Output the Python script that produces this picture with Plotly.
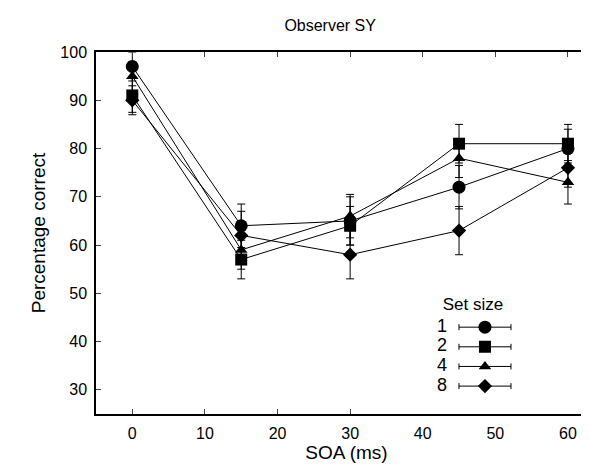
import plotly.graph_objects as go

soa = [0, 15, 30, 45, 60]
set_sizes = ["1", "2", "4", "8"]
pct_1 = [97, 64, 65, 72, 80]
pct_2 = [91, 57, 64, 81, 81]
pct_4 = [95, 59, 66, 78, 73]
pct_8 = [90, 62, 58, 63, 76]
err_1 = [3, 4.5, 5, 4.5, 4]
err_2 = [3.5, 4, 4, 4, 4]
err_4 = [3, 4, 4.5, 4, 4.5]
err_8 = [3, 5, 5, 5, 4]
x_ticks = [0, 10, 20, 30, 40, 50, 60]
y_ticks = [30, 40, 50, 60, 70, 80, 90, 100]

series = [pct_1, pct_2, pct_4, pct_8]
errors = [err_1, err_2, err_4, err_8]
symbols = ["circle", "square", "triangle-up", "diamond"]
sizes = [13, 12, 11, 11]

FONT = "Liberation Sans, Arial, Helvetica, sans-serif"
fig = go.Figure()

for name, ys, es, sym, sz in zip(set_sizes, series, errors, symbols, sizes):
    fig.add_trace(go.Scatter(
        x=soa, y=ys, name=name, mode="lines+markers",
        line=dict(color="black", width=1),
        marker=dict(symbol=sym, size=sz, color="black"),
        error_y=dict(type="data", array=es, visible=True, color="black",
                     thickness=1, width=4),
        showlegend=False,
    ))

# custom gnuplot-style key drawn on its own small axes
rows = list(range(len(set_sizes)))
for i, (name, sym, sz) in enumerate(zip(set_sizes, symbols, sizes)):
    fig.add_trace(go.Scatter(
        x=[0], y=[rows[i]], mode="markers", xaxis="x2", yaxis="y2",
        marker=dict(symbol=sym, size=sz, color="black"),
        error_x=dict(type="data", array=[1], visible=True, color="black",
                     thickness=1, width=3),
        showlegend=False, hoverinfo="skip",
    ))
fig.add_trace(go.Scatter(
    x=[-1.65] * len(set_sizes), y=rows, text=set_sizes, mode="text",
    textposition="middle center", xaxis="x2", yaxis="y2",
    textfont=dict(family=FONT, size=18, color="black"),
    showlegend=False, hoverinfo="skip",
))
fig.add_trace(go.Scatter(
    x=[-0.46], y=[-1.08], text=["Set size"], mode="text",
    textposition="middle center", xaxis="x2", yaxis="y2",
    textfont=dict(family=FONT, size=17, color="black"),
    showlegend=False, hoverinfo="skip",
))

fig.update_layout(
    width=589, height=465,
    margin=dict(l=88, r=0, t=44, b=59),
    paper_bgcolor="white", plot_bgcolor="white",
    font=dict(family=FONT, size=16, color="black"),
    title=dict(text="Observer SY", x=0.547, xanchor="center", y=0.975,
               yanchor="top", font=dict(size=16)),
    xaxis=dict(range=[-5, 64], tickvals=x_ticks, ticks="inside", ticklen=5,
               showline=True, linecolor="black", linewidth=1.5, mirror="ticks",
               showgrid=False, zeroline=False, ticklabelstandoff=4,
               title=dict(text="SOA (ms)", standoff=2),
               tickfont=dict(size=16)),
    yaxis=dict(range=[25, 100], tickvals=y_ticks, ticks="inside", ticklen=5,
               showline=True, linecolor="black", linewidth=1.5,
               showgrid=False, zeroline=False, ticklabelstandoff=4,
               title=dict(text="Percentage correct", standoff=10),
               tickfont=dict(size=16)),
    xaxis2=dict(domain=[0.6, 1.0], range=[-3.4, 4.31], visible=False,
                fixedrange=True),
    yaxis2=dict(domain=[0, 0.4], range=[4.42, -2.95], visible=False,
                fixedrange=True, anchor="x2"),
)

fig.write_html("out.html")
